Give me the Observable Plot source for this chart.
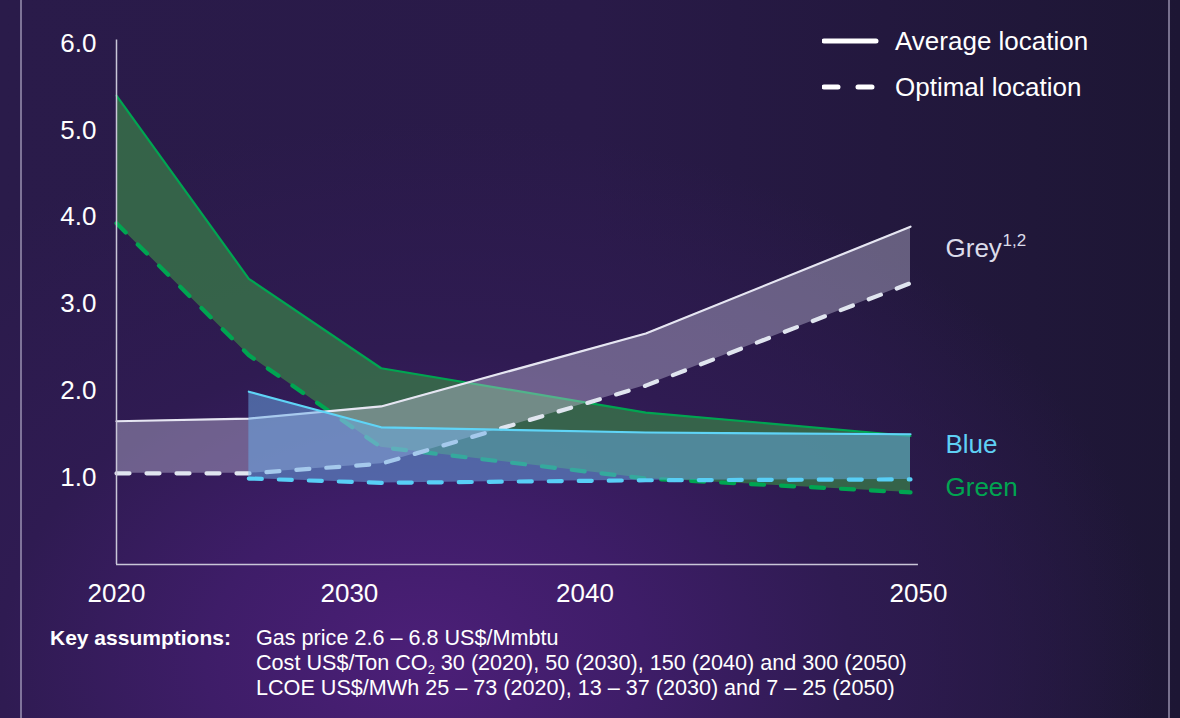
<!DOCTYPE html>
<html>
<head>
<meta charset="utf-8">
<script src="https://cdn.jsdelivr.net/npm/d3@7"></script>
<script src="https://cdn.jsdelivr.net/npm/@observablehq/plot@0.6"></script>
<style>
  html, body { margin: 0; padding: 0; }
  body {
    width: 1180px; height: 718px; overflow: hidden; position: relative;
    font-family: "Liberation Sans", Arial, sans-serif; color: #fff;
    background:
      radial-gradient(ellipse 62% 75% at 36% 92%, #4c1f78 0%, #3e1d68 30%, #2f1b52 58%, rgba(30,22,52,0) 100%),
      linear-gradient(90deg, #2a1b4a 0%, #291a48 50%, #1d1634 100%);
  }
  .border { position: absolute; top: 0; height: 718px; width: 2px; background: rgba(195,190,215,0.55); }
  #chart { position: absolute; left: 0; top: 0; }
  .legend { position: absolute; left: 822px; top: 0; }
  .legend .row { position: absolute; left: 0; height: 30px; white-space: nowrap; }
  .legend .row span { position: absolute; left: 73px; top: 0; font-size: 26px; line-height: 30px; color: #fff; }
  .footer { position: absolute; top: 625px; font-size: 21.6px; line-height: 25px; color: #fff; white-space: nowrap; }
  .footer sub { font-size: 13px; vertical-align: -4px; line-height: 0; }
</style>
</head>
<body>
<div class="border" style="left:20px"></div>
<div class="border" style="left:1168px"></div>
<div id="chart"></div>
<div class="legend">
  <div class="row" style="top:26px">
    <svg width="60" height="30" style="position:absolute;left:0;top:0"><line x1="2" y1="15" x2="54" y2="15" stroke="#fff" stroke-width="5" stroke-linecap="round"/></svg>
    <span>Average location</span>
  </div>
  <div class="row" style="top:72px">
    <svg width="60" height="30" style="position:absolute;left:0;top:0"><line x1="2" y1="15" x2="54" y2="15" stroke="#fff" stroke-width="5" stroke-linecap="round" stroke-dasharray="14 20"/></svg>
    <span>Optimal location</span>
  </div>
</div>
<div class="footer" style="left:50px;font-weight:bold;font-size:21px">Key assumptions:</div>
<div class="footer" style="left:256px">
  Gas price 2.6 – 6.8 US$/Mmbtu<br>
  Cost US$/Ton CO<sub>2</sub> 30 (2020), 50 (2030), 150 (2040) and 300 (2050)<br>
  LCOE US$/MWh 25 – 73 (2020), 13 – 37 (2030) and 7 – 25 (2050)
</div>
<script>
// ---- Data ----
const years = [2020, 2025, 2030, 2040, 2050];
const greyAverage  = [1.65, 1.68, 1.82, 2.66, 3.89];
const greyOptimal  = [1.05, 1.05, 1.16, 2.06, 3.24];
const greenAverage = [5.40, 3.29, 2.26, 1.75, 1.48];
const greenOptimal = [3.93, 2.41, 1.35, 0.99, 0.83];
const blueYears = [2025, 2030, 2040, 2050];
const blueAverage = [1.99, 1.58, 1.52, 1.50];
const blueOptimal = [0.99, 0.94, 0.97, 0.98];

const yTicks = [1, 2, 3, 4, 5, 6];
const xTickLabels = ["2020", "2030", "2040", "2050"];
const xTickAt = [2020, 2028.8, 2037.7, 2050.3];   // where the reference prints its year labels
const seriesNames = ["Grey", "Blue", "Green"];

// ---- Tables ----
const grey = years.map((x, i) => ({x, avg: greyAverage[i], opt: greyOptimal[i]}));
const green = years.map((x, i) => ({x, avg: greenAverage[i], opt: greenOptimal[i]}));
const blue = blueYears.map((x, i) => ({x, avg: blueAverage[i], opt: blueOptimal[i]}));
const last = a => a[a.length - 1];

const C = {
  greenLine: "#00a551", greenFill: "#387648", greenText: "#00a551",
  greyLine: "#e6e6f2", greyDash: "#e0e5ef", greyFill: "#cac8e2",
  blueLine: "#5fd4f6", blueDash: "#58cff6", blueFill: "#6aaeea", blueText: "#5fd0f4",
  axis: "#c9c6d8"
};
const dash = {strokeWidth: 4.2, strokeDasharray: "13 17", strokeLinecap: "round"};
const solid = {strokeWidth: 2.2};

function band(data, fill, fillOpacity, line, dashColor) {
  return [
    Plot.areaY(data, {x: "x", y1: "opt", y2: "avg", fill, fillOpacity}),
    Plot.line(data, {x: "x", y: "avg", stroke: line, ...solid}),
    Plot.line(data, {x: "x", y: "opt", stroke: dashColor, ...dash})
  ];
}

const chart = Plot.plot({
  width: 1180, height: 612,
  marginLeft: 116, marginRight: 270, marginTop: 43, marginBottom: 48,
  x: {domain: [2020, 2050], axis: null},
  y: {domain: [0, 6], axis: null},
  style: {background: "transparent", color: "#fff", fontFamily: "'Liberation Sans', Arial, sans-serif", overflow: "visible"},
  marks: [
    ...band(green, C.greenFill, 0.8, C.greenLine, C.greenLine),
    ...band(grey, C.greyFill, 0.4, C.greyLine, C.greyDash),
    ...band(blue, C.blueFill, 0.5, C.blueLine, C.blueDash),
    // axes
    Plot.ruleY([0], {x1: 2020, x2: last(xTickAt), stroke: C.axis, strokeWidth: 1.5}),
    Plot.ruleX([2020], {y1: 0, y2: 6.04, stroke: C.axis, strokeWidth: 1.5}),
    Plot.text(yTicks, {x: 2020, y: d => d, text: d => d.toFixed(1), dx: -20, textAnchor: "end", fontSize: 26, fill: "#fff"}),
    Plot.text(xTickLabels, {x: (d, i) => xTickAt[i], y: 0, text: d => d, dy: 29, fontSize: 26, fill: "#fff"}),
    // series labels
    Plot.text([seriesNames[0]], {x: 2050, y: (last(greyAverage) + last(greyOptimal)) / 2, text: d => d, dx: 35, dy: -6, textAnchor: "start", fontSize: 26, fill: "#dcdcea"}),
    Plot.text(["1,2"], {x: 2050, y: (last(greyAverage) + last(greyOptimal)) / 2, text: d => d, dx: 92, dy: -14, textAnchor: "start", fontSize: 17, fill: "#dcdcea"}),
    Plot.text([seriesNames[1]], {x: 2050, y: last(blueAverage), text: d => d, dx: 35, dy: 10, textAnchor: "start", fontSize: 26, fill: C.blueText}),
    Plot.text([seriesNames[2]], {x: 2050, y: last(greenOptimal), text: d => d, dx: 35, dy: -5, textAnchor: "start", fontSize: 26, fill: C.greenText})
  ]
});
document.getElementById("chart").appendChild(chart);
</script>
</body>
</html>
